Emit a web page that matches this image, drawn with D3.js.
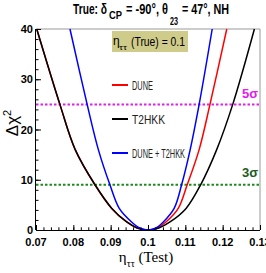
<!DOCTYPE html>
<html>
<head>
<meta charset="utf-8">
<script src="https://cdn.jsdelivr.net/npm/d3@7"></script>
<style>
  body { margin: 0; background: #fff; }
  svg { display: block; }
  .tick-label { font-family: "Liberation Sans Narrow", "Arial Narrow", "Liberation Sans", sans-serif; font-weight: bold; font-size: 11px; }
</style>
</head>
<body>
<div id="chart"></div>
<script>
// values
const xTicks = [0.07, 0.08, 0.09, 0.10, 0.11, 0.12, 0.13];
const xTickLabels = ["0.07", "0.08", "0.09", "0.1", "0.11", "0.12", "0.13"];
const yTicks = [0, 10, 20, 30, 40];

// [eta_tautau (test), delta chi2]
const t2hkk = [[0.0702, 40], [0.0764, 25], [0.0805, 16], [0.0858, 9], [0.0903, 4.3], [0.0943, 1.6], [0.0971, 0.4],
  [0.1, 0], [0.1029, 0.4], [0.1059, 1.6], [0.1102, 4.3], [0.1141, 9], [0.1184, 16], [0.1227, 25], [0.1285, 40]];
const dune = [[0.0702, 40], [0.0764, 25], [0.0805, 16], [0.0858, 9], [0.0903, 4.3], [0.0943, 1.6], [0.0971, 0.4],
  [0.1, 0], [0.1024, 0.4], [0.1048, 1.6], [0.1081, 4.3], [0.1105, 9], [0.1137, 16], [0.1166, 25], [0.1211, 40]];
const combined = [[0.0791, 40], [0.0837, 25], [0.0867, 16], [0.0898, 9], [0.0923, 4.3], [0.0956, 1.6], [0.0978, 0.4],
  [0.1, 0], [0.1021, 0.4], [0.1041, 1.6], [0.1070, 4.3], [0.1090, 9], [0.1113, 16], [0.1137, 25], [0.1172, 40]];

const sigmaLevels = [{chi2: 25, label: "5σ"}, {chi2: 9, label: "3σ"}];
const seriesNames = ["DUNE", "T2HKK", "DUNE + T2HKK"];

const width = 266, height = 273;
const margin = {top: 29, right: 6, bottom: 43, left: 36};

const svg = d3.select("#chart").append("svg")
    .attr("width", width)
    .attr("height", height);

const x = d3.scaleLinear().domain([0.07, 0.13]).range([margin.left, width - margin.right]);
const y = d3.scaleLinear().domain([0, 40]).range([height - margin.bottom, margin.top]);

// frame: grey top / right
svg.append("path")
    .attr("d", `M${x(0.07)},${y(40)}H${x(0.13)}V${y(0)}`)
    .attr("fill", "none")
    .attr("stroke", "#999")
    .attr("stroke-width", 1);

// sigma lines
const sigmaColor = {"5σ": "#e020ee", "3σ": "#1e8a1e"};
const sigmaText = {"5σ": "#e020ee", "3σ": "#1d5c1d"};
svg.selectAll(".sigma-line")
  .data(sigmaLevels)
  .join("line")
    .attr("class", "sigma-line")
    .attr("x1", x(0.07)).attr("x2", x(0.13))
    .attr("y1", d => y(d.chi2)).attr("y2", d => y(d.chi2))
    .attr("stroke", d => sigmaColor[d.label])
    .attr("stroke-width", 2)
    .attr("stroke-dasharray", "2.5,2");

svg.selectAll(".sigma-label")
  .data(sigmaLevels)
  .join("text")
    .attr("class", "sigma-label")
    .attr("x", 250)
    .attr("y", d => y(d.chi2) - (d.chi2 > 10 ? 6 : 8))
    .attr("text-anchor", "middle")
    .attr("fill", d => sigmaText[d.label])
    .style("font-family", "Liberation Sans, sans-serif")
    .style("font-weight", "bold")
    .style("font-size", "13px")
    .text(d => d.label);

// curves
const line = d3.line()
    .x(d => x(d[0]))
    .y(d => y(d[1]))
    .curve(d3.curveCatmullRom.alpha(0.5));

const curves = [
  {name: "DUNE", data: dune, color: "#ff0000"},
  {name: "T2HKK", data: t2hkk, color: "#000000"},
  {name: "DUNE + T2HKK", data: combined, color: "#0000ff"}
];

svg.selectAll(".curve")
  .data(curves)
  .join("path")
    .attr("class", "curve")
    .attr("d", d => line(d.data))
    .attr("fill", "none")
    .attr("stroke", d => d.color)
    .attr("stroke-width", 1.5);

// axes (ticks pointing inward)
const xAxis = d3.axisBottom(x).tickValues(xTicks).tickSize(-5).tickFormat("");
const xMinor = d3.axisBottom(x).tickValues(d3.range(0.07, 0.1301, 0.002)).tickSize(-2.7).tickFormat("");
const yAxis = d3.axisLeft(y).tickValues(yTicks).tickSize(-5).tickFormat("");
const yMinor = d3.axisLeft(y).tickValues(d3.range(0, 40.01, 2)).tickSize(-2.5).tickFormat("");

[xMinor, xAxis].forEach(a => {
  svg.append("g")
      .attr("transform", `translate(0,${y(0)})`)
      .call(a)
      .call(g => g.selectAll("line, path").attr("stroke", "#000"))
      .call(g => g.select(".domain").attr("d", `M${x(0.07)},0.5H${x(0.13)}`));
});
[yMinor, yAxis].forEach(a => {
  svg.append("g")
      .attr("transform", `translate(${x(0.07)},0)`)
      .call(a)
      .call(g => g.selectAll("line, path").attr("stroke", "#000"))
      .call(g => g.select(".domain").attr("d", `M-0.5,${y(40)}V${y(0)}`));
});

svg.selectAll(".x-label")
  .data(xTicks)
  .join("text")
    .attr("class", "tick-label")
    .attr("x", d => x(d))
    .attr("y", y(0) + 16)
    .attr("text-anchor", "middle")
    .text((d, i) => xTickLabels[i]);

svg.selectAll(".y-label")
  .data(yTicks)
  .join("text")
    .attr("class", "tick-label")
    .attr("x", x(0.07) - 3)
    .attr("y", d => y(d) + 4)
    .attr("text-anchor", "end")
    .text(d => d);

// axis titles
const xTitle = svg.append("text")
    .attr("x", 146)
    .attr("y", 262)
    .attr("text-anchor", "middle")
    .style("font-family", "Liberation Serif, serif")
    .style("font-size", "15px");
xTitle.append("tspan").text("η");
xTitle.append("tspan").attr("dy", 5).style("font-size", "10px").text("ττ");
xTitle.append("tspan").attr("dy", -5).text(" (Test)");

const yTitle = svg.append("text")
    .attr("transform", `translate(18,123) rotate(-90)`)
    .attr("text-anchor", "middle")
    .style("font-family", "Liberation Sans, sans-serif")
    .style("font-size", "17px");
yTitle.append("tspan").text("Δχ");
yTitle.append("tspan").attr("dy", -7).style("font-size", "11px").text("2");

// title
const title = svg.append("g")
    .style("font-family", "Liberation Sans, sans-serif")
    .style("font-weight", "bold");
const titleParts = [
  {t: "True: δ", x: 73, y: 14, w: 34, s: 15},
  {t: "CP", x: 109, y: 19, w: 13, s: 10},
  {t: "= -90°, θ", x: 126, y: 14, w: 42, s: 15},
  {t: "23", x: 170, y: 25, w: 8, s: 10},
  {t: "= 47°, NH", x: 182, y: 14, w: 47, s: 15}
];
title.selectAll("text")
  .data(titleParts)
  .join("text")
    .attr("x", d => d.x)
    .attr("y", d => d.y)
    .attr("textLength", d => d.w)
    .attr("lengthAdjust", "spacingAndGlyphs")
    .style("font-size", d => d.s + "px")
    .text(d => d.t);

// true value box
svg.append("rect")
    .attr("x", 112).attr("y", 31)
    .attr("width", 76).attr("height", 21)
    .attr("fill", "#cfcb8a");
const boxText = svg.append("g")
    .style("font-family", "Liberation Sans, sans-serif");
boxText.append("text").attr("x", 113).attr("y", 45).style("font-size", "12px").text("η");
boxText.append("text").attr("x", 119).attr("y", 50).attr("textLength", 8)
    .attr("lengthAdjust", "spacingAndGlyphs").style("font-size", "8px").text("ττ");
boxText.append("text").attr("x", 131).attr("y", 46).attr("textLength", 54)
    .attr("lengthAdjust", "spacingAndGlyphs").style("font-size", "13px").text("(True) = 0.1");

// legend
const legendY = [85, 119, 153];
const legendW = [21, 33, 53];
const legend = svg.selectAll(".legend")
  .data(curves)
  .join("g")
    .attr("class", "legend")
    .attr("transform", (d, i) => `translate(112,${legendY[i]})`);
legend.append("line")
    .attr("x1", 0).attr("x2", 16)
    .attr("stroke", d => d.color)
    .attr("stroke-width", 2);
legend.append("text")
    .attr("x", 20)
    .attr("y", 4.5)
    .attr("textLength", (d, i) => legendW[i])
    .attr("lengthAdjust", "spacingAndGlyphs")
    .attr("fill", "#222")
    .style("font-family", "Liberation Sans, sans-serif")
    .style("font-size", "12px")
    .text((d, i) => seriesNames[i]);
</script>
</body>
</html>
